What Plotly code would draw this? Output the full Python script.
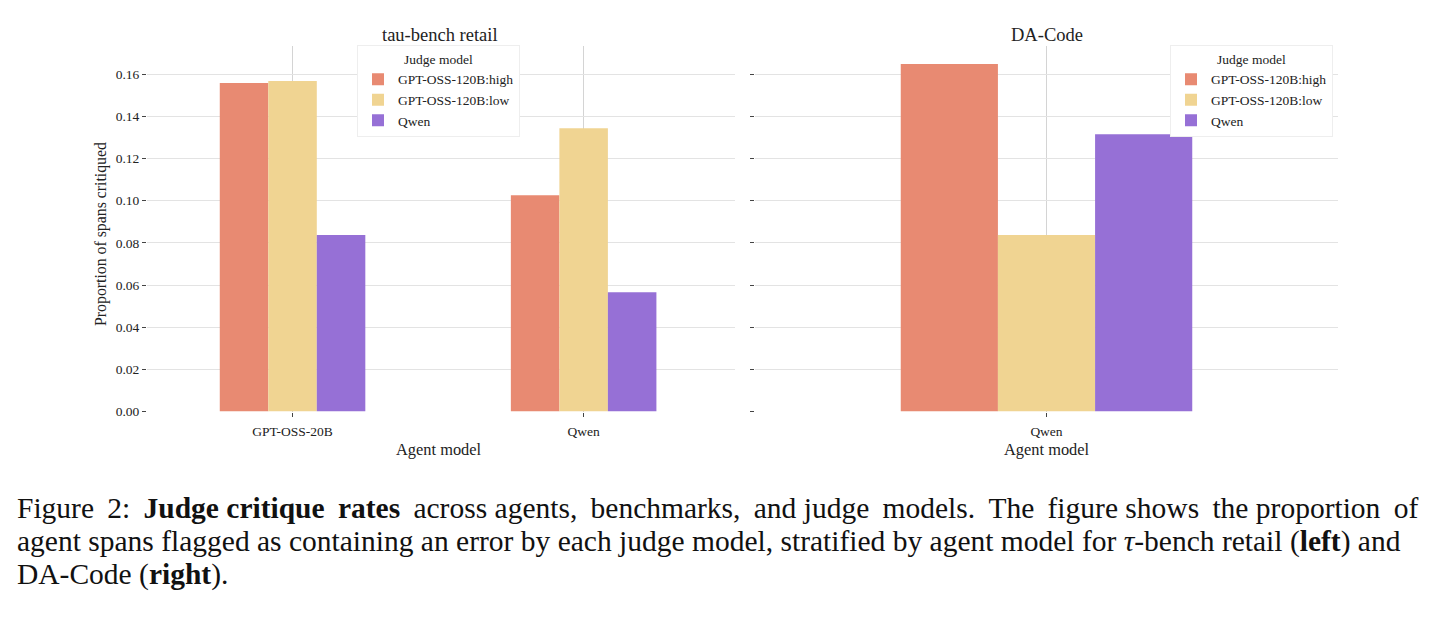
import plotly.graph_objects as go

# ---- data ----
judges = ["GPT-OSS-120B:high", "GPT-OSS-120B:low", "Qwen"]
colors = ["#E88A72", "#F0D492", "#9670D6"]

tau_agents = ["GPT-OSS-20B", "Qwen"]
tau_high = [0.1558, 0.1025]
tau_low = [0.1567, 0.1343]
tau_qwen = [0.0837, 0.0566]

da_agents = ["Qwen"]
da_high = [0.1647]
da_low = [0.0837]
da_qwen = [0.1315]

yticks = [0.00, 0.02, 0.04, 0.06, 0.08, 0.10, 0.12, 0.14, 0.16]

W, H = 1435, 618
FONT = "Liberation Serif, Times New Roman, serif"

def px(x):
    return x / W

def py(y):
    return (H - y) / H

fig = go.Figure()

tau_series = [tau_high, tau_low, tau_qwen]
da_series = [da_high, da_low, da_qwen]

for name, col, vals in zip(judges, colors, tau_series):
    fig.add_trace(go.Bar(x=tau_agents, y=vals, name=name, marker_color=col,
                         marker_line_width=0, xaxis="x", yaxis="y",
                         legend="legend", offsetgroup=name))
for name, col, vals in zip(judges, colors, da_series):
    fig.add_trace(go.Bar(x=da_agents, y=vals, name=name, marker_color=col,
                         marker_line_width=0, xaxis="x2", yaxis="y2",
                         legend="legend2", offsetgroup=name))

y_dom = [py(417), py(47)]
yr = [0, 0.1731]

common_x = dict(type="category", showgrid=True, gridcolor="#d4d4d4", gridwidth=1,
                ticks="outside", ticklen=4, tickcolor="#444", showline=False,
                zeroline=False, ticklabelstandoff=3,
                tickfont=dict(family=FONT, size=13.5, color="#222"))
common_y = dict(range=yr, showgrid=True, gridcolor="#e3e3e3", gridwidth=1,
                ticks="outside", ticklen=4, tickcolor="#444", zeroline=False,
                showline=False, tickvals=yticks,
                tickfont=dict(family=FONT, size=13.5, color="#222"))

legend_common = dict(
    title=dict(text="Judge model", side="top center", font=dict(family=FONT, size=13.5, color="#222")),
    font=dict(family=FONT, size=13.5, color="#222"),
    bgcolor="white", bordercolor="#eeeeee", borderwidth=1,
    xanchor="left", yanchor="top", itemwidth=30, tracegroupgap=0,
)

fig.update_layout(
    width=W, height=H,
    margin=dict(l=0, r=0, t=0, b=0),
    paper_bgcolor="white", plot_bgcolor="white",
    barmode="group", bargap=0.5, bargroupgap=0,
    font=dict(family=FONT, color="#222"),
    xaxis=dict(domain=[px(147), px(735)], range=[-0.5, 1.52], anchor="y", **common_x),
    yaxis=dict(domain=y_dom, anchor="x", tickformat=".2f", showticklabels=True, **common_y),
    xaxis2=dict(domain=[px(755), px(1338)], range=[-0.5, 0.5], anchor="y2", **common_x),
    yaxis2=dict(domain=y_dom, anchor="x2", matches="y", showticklabels=False, **common_y),
    legend=dict(x=px(357), y=py(46), **legend_common),
    legend2=dict(x=px(1170), y=py(46), **legend_common),
)

ann = []
# subplot titles
ann.append(dict(text="tau-bench retail", x=px(440), y=py(35), xref="paper", yref="paper",
                showarrow=False, font=dict(family=FONT, size=18.5, color="#222"),
                xanchor="center", yanchor="middle"))
ann.append(dict(text="DA-Code", x=px(1047), y=py(35), xref="paper", yref="paper",
                showarrow=False, font=dict(family=FONT, size=18.5, color="#222"),
                xanchor="center", yanchor="middle"))
# axis titles
for xc in (439, 1047):
    ann.append(dict(text="Agent model", x=px(xc), y=py(455), xref="paper", yref="paper",
                    showarrow=False, font=dict(family=FONT, size=16.4, color="#222"),
                    xanchor="center", yanchor="middle"))
ann.append(dict(text="Proportion of spans critiqued", x=px(101), y=py(237), xref="paper",
                yref="paper", showarrow=False, textangle=-90,
                font=dict(family=FONT, size=15.8, color="#222"),
                xanchor="center", yanchor="middle"))

# caption (first line is justified in the original; widen some gaps with thin spaces)
TS = "\u2009"
line1_words = ["Figure", "2:", "<b>Judge", "critique", "rates</b>", "across", "agents,",
               "benchmarks,", "and", "judge", "models.", "The", "figure", "shows", "the",
               "proportion", "of"]
plain_gaps = {2, 5, 8, 12, 14}
line1 = line1_words[0]
for i, w in enumerate(line1_words[1:]):
    line1 += (" " if i in plain_gaps else " " + TS) + w
cap = [
    line1,
    "agent spans flagged as containing an error by each judge model, stratified by agent model for <i>τ</i>-bench retail (<b>left</b>) and",
    "DA-Code (<b>right</b>).",
]
for line, yc in zip(cap, (515, 549, 582)):
    ann.append(dict(text=line, x=px(15), y=py(yc), xref="paper", yref="paper",
                    showarrow=False, font=dict(family=FONT, size=29.5, color="#111"),
                    xanchor="left", yanchor="middle", align="left"))

fig.update_layout(annotations=ann)

fig.write_html("out.html")
